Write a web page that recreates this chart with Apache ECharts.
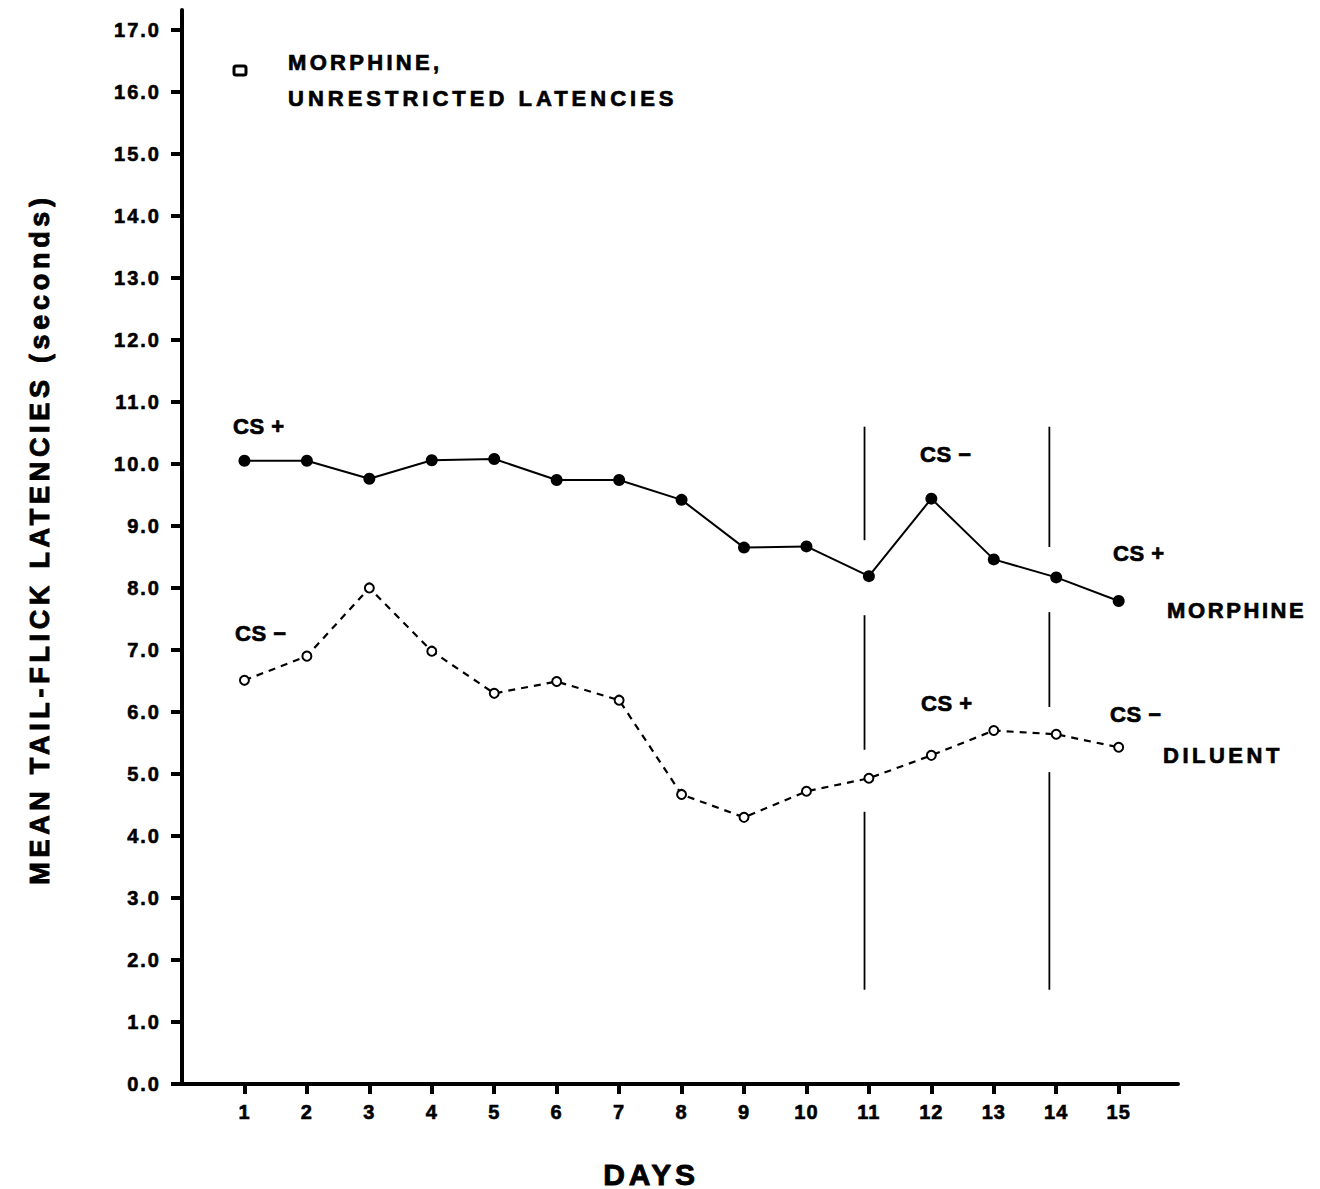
<!DOCTYPE html>
<html><head><meta charset="utf-8">
<script src="https://cdn.jsdelivr.net/npm/echarts@6/dist/echarts.min.js"></script>
<style>html,body{margin:0;padding:0;background:#fff}#c{width:1320px;height:1189px}</style>
</head><body><div id="c"></div>
<script>
// ---- data ----
const days = [1,2,3,4,5,6,7,8,9,10,11,12,13,14,15];
const yTicks = [0,1,2,3,4,5,6,7,8,9,10,11,12,13,14,15,16,17];
const morphine = [10.05,10.05,9.76,10.06,10.08,9.74,9.74,9.42,8.65,8.67,8.19,9.44,8.46,8.17,7.79];
const diluent  = [6.51,6.90,8.00,6.98,6.30,6.49,6.19,4.67,4.30,4.72,4.93,5.30,5.70,5.64,5.43];
const dividerDays = [10.93, 13.89];
const dividerSegments = [
  [[10.6,8.77],[7.56,5.39],[4.39,1.52]],
  [[10.6,8.66],[7.61,6.08],[5.03,1.52]]
];
const annotations = ['CS +','CS \u2212','CS \u2212','CS +','MORPHINE','CS +','CS \u2212','DILUENT'];
const legendLines = ['MORPHINE,','UNRESTRICTED LATENCIES'];
const yTitle = 'MEAN TAIL-FLICK LATENCIES (seconds)';
const xTitle = 'DAYS';

// ---- layout ----
const FONT = 'Liberation Sans';
const annoPos = [[233,426],[235,633],[920,454],[1113,553],[1167,610],[921,703],[1110,714],[1163,755]];

const chart = echarts.init(document.getElementById('c'), null, {renderer:'svg'});

const series = [];
dividerDays.forEach((d, i) => {
  dividerSegments[i].forEach(seg => {
    series.push({
      type:'line', silent:true, symbol:'none', animation:false, z:1,
      data: [[d, seg[0]],[d, seg[1]]],
      lineStyle:{color:'#000', width:1.8}
    });
  });
});
series.push({
  name:'MORPHINE', type:'line', animation:false, z:3,
  data: days.map((d,i)=>[d, morphine[i]]),
  symbol:'circle', symbolSize:12,
  itemStyle:{color:'#000'},
  lineStyle:{color:'#000', width:2}
});
series.push({
  name:'DILUENT', type:'line', animation:false, z:3,
  data: days.map((d,i)=>[d, diluent[i]]),
  symbol:'emptyCircle', symbolSize:9,
  itemStyle:{color:'#000', borderColor:'#000', borderWidth:2.2},
  lineStyle:{color:'#000', width:2.2, type:[7,6]}
});

function txt(t, x, y, size, align, stroke, extra){
  return Object.assign({type:'text', x:x, y:y,
    style:{text:t, fontSize:size, fontWeight:'bold', fontFamily:FONT, fill:'#000',
      stroke:'#000', lineWidth:stroke,
      textAlign:align, align:align, textVerticalAlign:'middle', verticalAlign:'middle'}}, extra || {});
}
const graphics = [];
annotations.forEach((t,i) => graphics.push(txt(t, annoPos[i][0], annoPos[i][1], 22, 'left', 0.7)));
graphics.push({type:'rect', shape:{x:234, y:66, width:12, height:9, r:2},
  style:{fill:'#fff', stroke:'#000', lineWidth:3}});
legendLines.forEach((t,i) => graphics.push(txt(t, 288, 62 + i*36, 22, 'left', 0.7)));
graphics.push(txt(yTitle, 40, 539, 27, 'center', 0.9, {rotation:Math.PI/2}));
graphics.push(txt(xTitle, 651, 1174, 30, 'center', 0.9));

const axisFont = {color:'#000', fontWeight:'bold', fontFamily:FONT, textBorderColor:'#000', textBorderWidth:0.6};

chart.setOption({
  backgroundColor:'#fff',
  animation:false,
  grid:{left:182, right:142, top:10, bottom:105, containLabel:false, outerBoundsMode:'none'},
  xAxis:{
    type:'value', min:0, max:15.95,
    splitLine:{show:false},
    axisLine:{lineStyle:{color:'#000', width:4}},
    axisTick:{customValues:days, length:10, lineStyle:{color:'#000', width:4}},
    axisLabel:Object.assign({customValues:days, margin:18, fontSize:20, formatter:v=>String(v)}, axisFont)
  },
  yAxis:{
    type:'value', min:0, max:17.32,
    splitLine:{show:false},
    axisLine:{show:true, lineStyle:{color:'#000', width:4}},
    axisTick:{show:true, customValues:yTicks, length:11, lineStyle:{color:'#000', width:4}},
    axisLabel:Object.assign({customValues:yTicks, margin:21, fontSize:20, formatter:v=>Number(v).toFixed(1)}, axisFont)
  },
  graphic:graphics,
  series:series
});

function spacingFor(t){
  if (/^\d+\.0$/.test(t)) return 2;
  if (/^\d+$/.test(t)) return 1;
  if (t.indexOf('CS') === 0) return 0.5;
  if (t === 'MORPHINE') return 2.6;
  if (t === 'DILUENT') return 3.5;
  if (t === legendLines[0]) return 3.3;
  if (t === legendLines[1]) return 4;
  if (t === xTitle) return 3.7;
  if (t === yTitle) return 4.7;
  return 0;
}
function applySpacing(){
  document.querySelectorAll('#c text').forEach(el => {
    const s = spacingFor(el.textContent);
    if (s) el.setAttribute('letter-spacing', s + 'px');
  });
}
applySpacing();
chart.on('finished', applySpacing);
setTimeout(applySpacing, 0);
requestAnimationFrame(applySpacing);
</script>
</body></html>
